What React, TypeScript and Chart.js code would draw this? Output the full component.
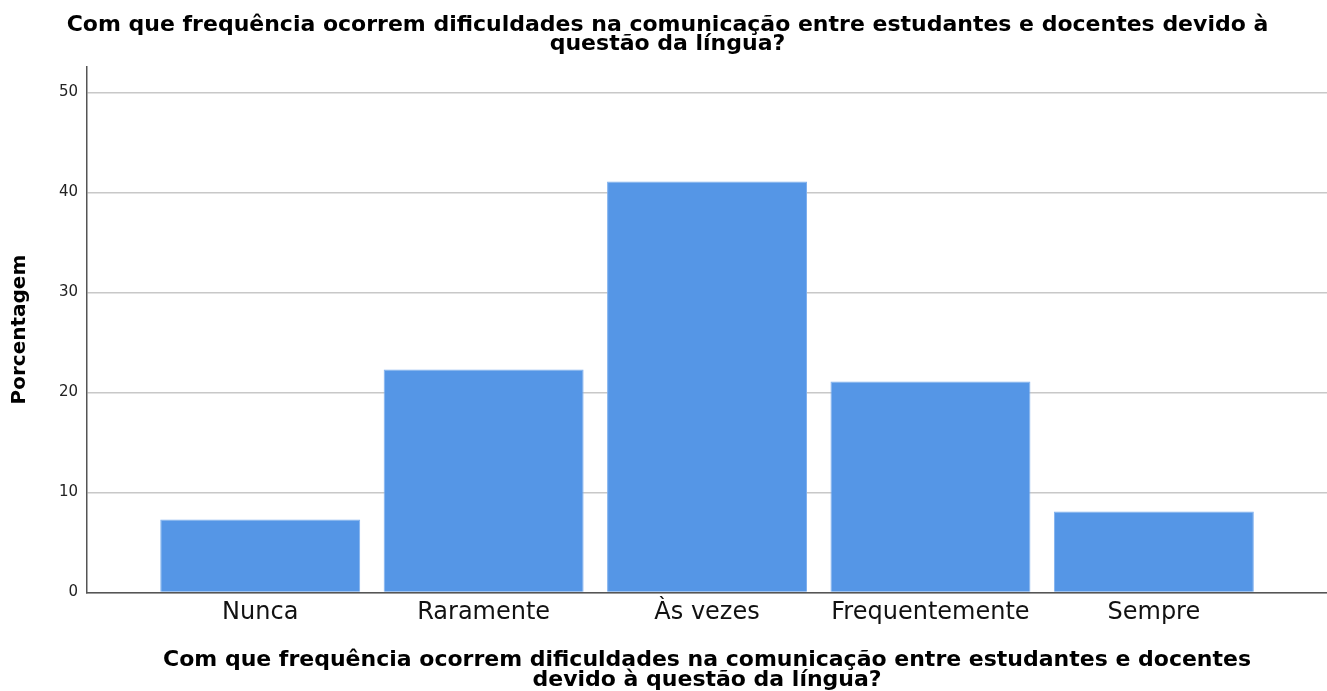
import React, { useEffect, useRef } from "react";
import { Chart, registerables } from "chart.js";

Chart.register(...registerables);

const categories: string[] = ["Nunca", "Raramente", "Às vezes", "Frequentemente", "Sempre"];
const percentages: number[] = [7.3, 22.3, 41.1, 21.1, 8.1];
const yTicks: number[] = [0, 10, 20, 30, 40, 50];
const titleLines: string[] = [
  "Com que frequência ocorrem dificuldades na comunicação entre estudantes e docentes devido à",
  "questão da língua?",
];
const xTitleLines: string[] = [
  "Com que frequência ocorrem dificuldades na comunicação entre estudantes e docentes",
  "devido à questão da língua?",
];
const yTitle = "Porcentagem";

const FONT = "'DejaVu Sans', sans-serif";

export default function App() {
  const ref = useRef<HTMLCanvasElement | null>(null);
  useEffect(() => {
    document.body.style.margin = "0";
    if (!ref.current) return;
    const chart = new Chart(ref.current, {
      type: "bar",
      data: {
        datasets: [
          {
            data: percentages.map((v, i) => ({ x: i, y: v })),
            backgroundColor: "#5596e6",
            borderColor: "#7fb0ee",
            borderWidth: { top: 1, left: 1, right: 1, bottom: 0 },
            barPercentage: 0.895,
            categoryPercentage: 1,
          },
        ],
      },
      options: {
        animation: false,
        responsive: false,
        maintainAspectRatio: false,
        layout: { padding: { left: 8, right: 0, top: 0, bottom: 0 } },
        plugins: {
          legend: { display: false },
          tooltip: { enabled: false },
          title: {
            display: true,
            text: titleLines,
            color: "#000",
            font: { family: FONT, size: 22, weight: "bold", lineHeight: 0.9 },
            padding: { top: 15, bottom: 12 },
          },
        },
        scales: {
          x: {
            type: "linear",
            min: -0.775,
            max: 4.775,
            offset: false,
            afterBuildTicks: (scale: any) => {
              scale.ticks = categories.map((_, i) => ({ value: i }));
            },
            ticks: {
              autoSkip: false,
              maxRotation: 0,
              color: "#111",
              font: { family: FONT, size: 24 },
              padding: 6,
              callback: (v: any) => categories[Math.round(Number(v))] ?? "",
            },
            grid: { display: false, drawTicks: false, offset: false },
            border: { display: true, color: "#555", width: 1.5 },
            title: {
              display: true,
              text: xTitleLines,
              color: "#000",
              font: { family: FONT, size: 22, weight: "bold", lineHeight: 0.9 },
              padding: { top: 17, bottom: 1 },
            },
          },
          y: {
            min: 0,
            max: 52.6,
            afterBuildTicks: (scale: any) => {
              scale.ticks = yTicks.map((v) => ({ value: v }));
            },
            ticks: {
              color: "#222",
              font: { family: FONT, size: 15 },
              padding: 9,
            },
            grid: { color: "#c8c8c8", lineWidth: 1.5, drawTicks: false },
            border: { display: true, color: "#555", width: 1.5 },
            title: {
              display: true,
              text: yTitle,
              color: "#000",
              font: { family: FONT, size: 20, weight: "bold" },
              padding: { top: 0, bottom: 18 },
            },
          },
        },
      },
    });
    return () => chart.destroy();
  }, []);
  return (
    <div style={{ width: 1327, height: 691 }}>
      <canvas ref={ref} width={1327} height={691} style={{ display: "block" }} />
    </div>
  );
}
